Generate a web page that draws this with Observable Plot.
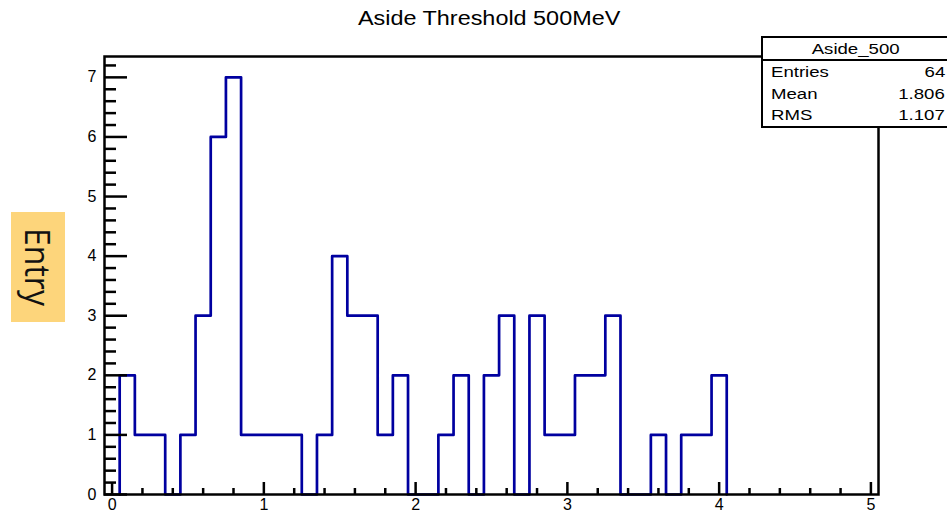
<!DOCTYPE html>
<html><head><meta charset="utf-8">
<script src="https://cdn.jsdelivr.net/npm/d3@7"></script>
<script src="https://cdn.jsdelivr.net/npm/@observablehq/plot@0.6"></script>
<style>
html,body{margin:0;padding:0;background:#fff;}
#wrap{position:relative;width:947px;height:515px;overflow:hidden;font-family:"Liberation Sans",Arial,Helvetica,sans-serif;color:#000;}
#chart{position:absolute;left:0;top:0;}
#title{position:absolute;left:0;width:978px;top:6px;text-align:center;font-size:20px;line-height:24px;}
#title span{display:inline-block;transform:scaleX(1.17);transform-origin:center;}
#stats{position:absolute;left:761px;top:36px;width:186px;border:2.5px solid #000;background:#fff;font-size:15.5px;}
#stats .hd{text-align:center;height:21px;line-height:22px;border-bottom:2.5px solid #000;}
#stats .hd span{display:inline-block;transform:scaleX(1.2);transform-origin:center;}
#stats .row{display:flex;justify-content:space-between;height:21.5px;line-height:22px;padding:0 4px 0 8px;}
#stats .row span{display:inline-block;transform:scaleX(1.2);}
#stats .row span.n{transform-origin:left;}
#stats .row span.v{transform-origin:right;}
#entry{position:absolute;left:11px;top:212px;width:54px;height:110px;background:#fdd57b;display:flex;align-items:center;justify-content:center;}
#entry span{writing-mode:vertical-rl;font-family:"Open Sans",sans-serif;font-size:32px;color:#111;transform:scaleX(1.1);}
</style></head>
<body>
<div id="wrap">
  <div id="chart"></div>
  <div id="title"><span></span></div>
  <div id="stats"></div>
  <div id="entry"><span></span></div>
</div>
<script>
const titleText = "Aside Threshold 500MeV";
const yLabel = "Entry";
const statsTitle = "Aside_500";
const statNames = ["Entries", "Mean", "RMS"];
const statValues = ["64", "1.806", "1.107"];

const binCenters = [0.1,0.2,0.3,0.4,0.5,0.6,0.7,0.8,0.9,1.0,1.1,1.2,1.3,1.4,1.5,1.6,1.7,1.8,1.9,2.0,
                    2.1,2.2,2.3,2.4,2.5,2.6,2.7,2.8,2.9,3.0,3.1,3.2,3.3,3.4,3.5,3.6,3.7,3.8,3.9,4.0];
const counts     = [2,1,1,0,1,3,6,7,1,1,1,1,0,1,4,3,3,1,2,0,
                    0,1,2,0,2,3,0,3,1,1,2,2,3,0,0,1,0,1,1,2];
const binWidth = 0.1;

const xMajorTicks = [0,1,2,3,4,5];
const xMinorTicks = [0.2,0.4,0.6,0.8,1.2,1.4,1.6,1.8,2.2,2.4,2.6,2.8,3.2,3.4,3.6,3.8,4.2,4.4,4.6,4.8];
const yMajorTicks = [0,1,2,3,4,5,6,7];
const yMinorTicks = [0.2,0.4,0.6,0.8,1.2,1.4,1.6,1.8,2.2,2.4,2.6,2.8,3.2,3.4,3.6,3.8,
                     4.2,4.4,4.6,4.8,5.2,5.4,5.6,5.8,6.2,6.4,6.6,6.8,7.2];

// outline of the histogram built from bins
const steps = [];
binCenters.forEach((c, i) => {
  const lo = c - binWidth / 2, hi = c + binWidth / 2;
  if (i === 0) steps.push({x: lo, y: 0});
  steps.push({x: lo, y: counts[i]}, {x: hi, y: counts[i]});
  if (i === binCenters.length - 1) steps.push({x: hi, y: 0});
});

const W = 947, H = 515, mL = 104, mR = 69, mT = 56, mB = 21;
const fw = W - mL - mR, fh = H - mT - mB;

const chart = Plot.plot({
  width: W, height: H,
  marginLeft: mL, marginRight: mR, marginTop: mT, marginBottom: mB,
  x: {domain: [-0.05, 5.05]},
  y: {domain: [0, 7.35]},
  style: {fontFamily: '"Liberation Sans", Arial, Helvetica, sans-serif', fontSize: "16px", color: "#000", background: "transparent"},
  marks: [
    Plot.line(steps, {x: "x", y: "y", stroke: "#0000a0", strokeWidth: 2.7}),
    Plot.tickX(xMajorTicks, {x: d => d, insetTop: fh - 12, stroke: "#000", strokeWidth: 2.5}),
    Plot.tickX(xMinorTicks, {x: d => d, insetTop: fh - 6, stroke: "#000", strokeWidth: 2.5}),
    Plot.tickY(yMajorTicks, {y: d => d, insetRight: fw - 23, stroke: "#000", strokeWidth: 2.5}),
    Plot.tickY(yMinorTicks, {y: d => d, insetRight: fw - 12, stroke: "#000", strokeWidth: 2.5}),
    Plot.axisX({ticks: xMajorTicks, tickSize: 0, tickPadding: 4, tickFormat: d => String(d), label: null, fontSize: 16}),
    Plot.axisY({ticks: yMajorTicks, tickSize: 0, tickPadding: 8, tickFormat: d => String(d), label: null, fontSize: 16}),
    Plot.frame({stroke: "#000", strokeWidth: 2.5})
  ]
});
document.getElementById("chart").appendChild(chart);
document.querySelector("#title span").textContent = titleText;
document.querySelector("#entry span").textContent = yLabel;
const st = document.getElementById("stats");
const hd = document.createElement("div"); hd.className = "hd";
const hs = document.createElement("span"); hs.textContent = statsTitle; hd.appendChild(hs); st.appendChild(hd);
statNames.forEach((n, i) => {
  const r = document.createElement("div"); r.className = "row";
  const a = document.createElement("span"); a.className = "n"; a.textContent = n;
  const b = document.createElement("span"); b.className = "v"; b.textContent = statValues[i];
  r.appendChild(a); r.appendChild(b); st.appendChild(r);
});
</script>
</body></html>
